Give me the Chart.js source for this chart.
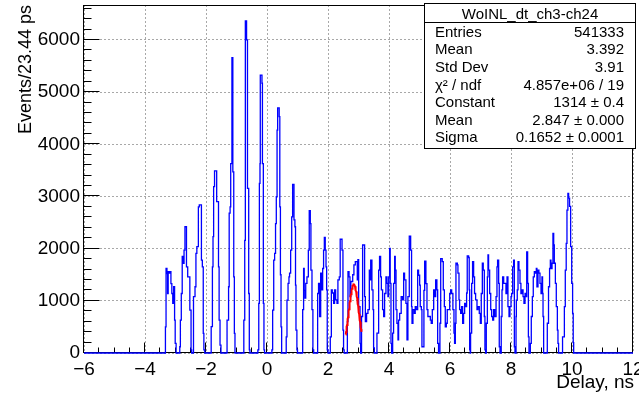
<!DOCTYPE html>
<html>
<head>
<meta charset="utf-8">
<script src="https://cdn.jsdelivr.net/npm/chart.js@4/dist/chart.umd.min.js"></script>
<style>
  html, body { margin: 0; padding: 0; background: #ffffff; overflow: hidden; }
  canvas { display: block; }
</style>
</head>
<body>
<canvas id="hist" width="639" height="393"></canvas>
<script>
// Delay histogram outline: each step starts at stepStartNs[i] and holds stepCounts[i]
const stepStartNs = [
  -6,
  -3.33, -3.31, -3.28, -3.26, -3.24, -3.20, -3.17, -3.15, -3.12, -3.09, -3.06, -3.03, -3.01, -2.98,
  -2.86, -2.84, -2.81, -2.78, -2.74, -2.72, -2.69, -2.64, -2.60, -2.53, -2.49, -2.47,
  -2.41, -2.36, -2.33, -2.30, -2.25, -2.22, -2.15, -2.12, -2.09, -2.07, -2.04,
  -1.83, -1.79, -1.77, -1.75, -1.72, -1.65, -1.59, -1.57, -1.54, -1.51,
  -1.31, -1.26, -1.24, -1.21, -1.19, -1.15, -1.12, -1.09, -1.07, -1.05,
  -0.76, -0.73, -0.71, -0.67, -0.64, -0.60, -0.58, -0.56,
  -0.30, -0.27, -0.25, -0.23, -0.22, -0.165, -0.15, -0.12, -0.10, -0.08,
  0.16, 0.185, 0.22, 0.25, 0.28, 0.305, 0.33, 0.35, 0.40, 0.42, 0.44, 0.46, 0.48,
  0.63, 0.655, 0.69, 0.72, 0.74, 0.775, 0.81, 0.84, 0.885, 0.915, 0.935, 0.95, 0.98, 1.00,
  1.17, 1.20, 1.22, 1.245, 1.27, 1.31, 1.355, 1.385, 1.42, 1.44, 1.475, 1.505, 1.53,
  1.66, 1.69, 1.725, 1.76, 1.79, 1.825, 1.855, 1.88, 1.91, 1.935, 1.955, 1.975, 2.00,
  2.075, 2.11, 2.14, 2.185, 2.215, 2.25, 2.295, 2.325, 2.37, 2.40, 2.46, 2.49, 2.51, 2.53,
  2.635, 2.655, 2.69, 2.72, 2.75, 2.81, 2.85, 2.895, 2.96, 2.98, 3.005, 3.05, 3.07,
  3.10, 3.135, 3.20, 3.225, 3.265, 3.31, 3.355, 3.385, 3.40, 3.44, 3.475, 3.495, 3.52,
  3.605, 3.66, 3.69, 3.725, 3.75, 3.79, 3.825, 3.855, 3.90, 3.935, 3.965, 3.99, 4.02, 4.04, 4.065, 4.085,
  4.12, 4.15, 4.185, 4.205, 4.23, 4.26, 4.295, 4.315, 4.35, 4.40, 4.445, 4.48, 4.51, 4.555, 4.59,
  4.62, 4.665, 4.71, 4.74, 4.755, 4.785, 4.83, 4.86, 4.895, 4.94, 4.97, 5.005, 5.025, 5.06, 5.08,
  5.145, 5.17, 5.21, 5.245, 5.275, 5.355, 5.385, 5.42, 5.465, 5.495, 5.53, 5.57, 5.595, 5.625,
  5.67, 5.695, 5.745, 5.78, 5.815, 5.845, 5.88, 5.91, 5.99, 6.02, 6.055, 6.095, 6.13, 6.15,
  6.175, 6.195, 6.24, 6.26, 6.295, 6.315, 6.35, 6.38, 6.415, 6.445, 6.48, 6.51, 6.545, 6.565, 6.61, 6.63, 6.645, 6.665,
  6.675, 6.71, 6.74, 6.775, 6.805, 6.84, 6.885, 6.915, 6.96, 6.995, 7.025, 7.06, 7.09, 7.125, 7.145, 7.17,
  7.19, 7.225, 7.245, 7.265, 7.30, 7.335, 7.365, 7.40, 7.43, 7.465, 7.51, 7.54, 7.56, 7.595, 7.615, 7.64,
  7.68, 7.705, 7.725, 7.76, 7.835, 7.87, 7.90, 7.935, 7.965, 8.00, 8.02, 8.055, 8.085, 8.11, 8.13,
  8.165, 8.175, 8.205, 8.23, 8.26, 8.295, 8.325, 8.36, 8.395, 8.425, 8.46, 8.49, 8.515, 8.545, 8.57, 8.59,
  8.635, 8.665, 8.70, 8.73, 8.765, 8.80, 8.83, 8.85, 8.885, 8.915, 8.95, 8.985, 9.015, 9.035, 9.05, 9.07,
  9.19, 9.23, 9.265, 9.29, 9.31, 9.345, 9.375, 9.40, 9.42, 9.455, 9.485, 9.52, 9.54, 9.56,
  9.69, 9.75, 9.78, 9.81, 9.835, 9.865, 9.89, 9.92, 9.955, 9.99, 10.02, 10.04, 10.055,
  12
];
const stepCounts = [
  0,
  500, 1620, 1520, 1140, 1560, 1530, 1560, 1330, 1140, 950, 1270, 630, 185, 0,
  120, 630, 1140, 1850, 1720, 1970, 2420, 1650, 1460, 820, 60, 0,
  1080, 1270, 1910, 2040, 2800, 2840, 1780, 1650, 375, 60, 0,
  505, 1650, 2230, 3190, 3490, 2900, 1650, 630, 150, 0,
  630, 1270, 2680, 2800, 3630, 5660, 3470, 1460, 375, 0,
  630, 2160, 6365, 6000, 3155, 1140, 60, 0,
  60, 950, 3250, 3630, 5325, 5170, 3630, 950, 60, 0,
  60, 820, 1780, 1910, 2480, 2995, 4270, 4700, 4530, 2800, 1500, 500, 0,
  310, 1015, 1335, 1460, 1530, 1970, 2610, 3230, 2550, 2420, 1300, 440, 60, 0,
  830, 1620, 1200, 1050, 1335, 1460, 1970, 2730, 2480, 1590, 830, 60, 0,
  1140, 1335, 700, 1530, 1210, 1620, 1970, 2215, 1970, 1650, 1210, 60, 0,
  310, 1210, 1150, 950, 1210, 1020, 950, 1400, 1460, 2180, 1970, 440, 60, 0,
  600, 1560, 1460, 1080, 1370, 1500, 1690, 1750, 1400, 1790, 890, 185, 0,
  700, 2070, 1080, 600, 760, 830, 1590, 1400, 1780, 1210, 830, 100, 0,
  380, 1590, 1850, 1460, 1210, 830, 700, 1140, 1460, 1335, 1080, 1460, 2005, 1335, 185, 0,
  380, 1335, 1850, 1590, 830, 570, 250, 630, 760, 1080, 1020, 1530, 1400, 950, 250,
  1080, 2240, 1970, 890, 570, 830, 760, 890, 830, 1590, 1490, 1300, 890, 830, 120,
  1200, 1760, 1330, 830, 700, 630, 570, 830, 1210, 1080, 1400, 1210, 185, 0,
  570, 1810, 1750, 1210, 890, 500, 570, 830, 1140, 1210, 1140, 830, 380, 185,
  570, 1720, 1690, 1530, 1020, 830, 760, 890, 570, 760, 950, 890, 1150, 1860, 1830, 1210, 60, 0,
  380, 1335, 1750, 1460, 1140, 1020, 830, 890, 760, 570, 1140, 1720, 1590, 700, 60, 0,
  570, 1460, 1880, 1590, 1140, 830, 700, 630, 830, 700, 1080, 1650, 1780, 1335, 120, 0,
  700, 1210, 1460, 1335, 1140, 1460, 890, 700, 890, 1080, 1140, 1650, 1780, 120, 0,
  700, 1015, 1210, 1750, 1590, 1335, 1140, 1210, 1080, 950, 1140, 1080, 1940, 1335, 310, 0,
  185, 700, 1080, 1460, 1560, 1530, 1620, 1270, 1590, 1530, 1335, 1140, 1460, 1140, 700, 0,
  570, 1270, 1620, 1780, 1620, 1720, 2290, 2070, 1720, 1335, 890, 440, 185, 0,
  310, 890, 1590, 2100, 2740, 3060, 2970, 2810, 2040, 1335, 760, 200, 0,
  0
];

// Gaussian fit result shown in the statistics box
const fitConstant = 1314;
const fitMean = 2.847;
const fitSigma = 0.1652;
const fitRangeNs = [2.58, 3.10];

// Axis ranges and labelled ticks
const xRange = [-6, 12];
const yRange = [0, 6670];
const xMajorTicks = [-6, -4, -2, 0, 2, 4, 6, 8, 10, 12];
const yMajorTicks = [0, 1000, 2000, 3000, 4000, 5000, 6000];
const xMinorStep = 0.5;
const yMinorStep = 200;

// Statistics box contents
const statsTitle = 'WoINL_dt_ch3-ch24';
const statsNames = ['Entries', 'Mean', 'Std Dev', '\u03C7\u00B2 / ndf', 'Constant', 'Mean', 'Sigma'];
const statsValues = ['541333', '3.392', '3.91', '4.857e+06 / 19', '1314 \u00B1 0.4', '2.847 \u00B1 0.000', '0.1652 \u00B1 0.0001'];

const xTitle = 'Delay, ns';
const yTitle = 'Events/23.44 ps';

const FONT = '"Liberation Sans", Arial, Helvetica, sans-serif';

const histPoints = stepStartNs.map((x, i) => ({ x: x, y: stepCounts[i] }));

const fitPoints = [];
const nFit = 80;
for (let i = 0; i <= nFit; i++) {
  const x = fitRangeNs[0] + (fitRangeNs[1] - fitRangeNs[0]) * i / nFit;
  const z = (x - fitMean) / fitSigma;
  fitPoints.push({ x: x, y: fitConstant * Math.exp(-0.5 * z * z) });
}

// Frame box and inward tick marks, ROOT style
const framePlugin = {
  id: 'frame',
  beforeDatasetsDraw(chart) {
    const { ctx, chartArea: a, scales } = chart;
    const L = Math.round(a.left) - 0.5, R = Math.round(a.right) - 0.5;
    const T = Math.round(a.top) + 0.5, B = Math.round(a.bottom) - 0.5;
    ctx.save();
    ctx.strokeStyle = '#000';
    ctx.lineWidth = 1;
    ctx.beginPath();
    for (let v = yRange[0]; v <= yRange[1]; v += yMinorStep) {
      const y = Math.round(scales.y.getPixelForValue(v)) - 0.5;
      const len = (v % 1000 === 0) ? 16 : 8;
      ctx.moveTo(L, y); ctx.lineTo(L + len, y);
    }
    for (let v = xRange[0]; v <= xRange[1] + 1e-9; v += xMinorStep) {
      const x = Math.round(scales.x.getPixelForValue(v)) - 0.5;
      const len = (Math.abs(v % 2) < 1e-9) ? 10 : 5;
      ctx.moveTo(x, B); ctx.lineTo(x, B - len);
    }
    ctx.stroke();
    ctx.strokeRect(L, T, R - L, B - T);
    ctx.restore();
  }
};

// Axis titles and the statistics box
const overlayPlugin = {
  id: 'overlay',
  afterDraw(chart) {
    const { ctx, chartArea: a } = chart;
    ctx.save();
    ctx.fillStyle = '#000';
    ctx.font = '19px ' + FONT;
    ctx.textAlign = 'right';
    ctx.textBaseline = 'alphabetic';
    ctx.fillText(xTitle, 634, 388);

    ctx.save();
    ctx.translate(31, a.top);
    ctx.rotate(-Math.PI / 2);
    ctx.font = '18px ' + FONT;
    ctx.textAlign = 'right';
    ctx.fillText(yTitle, 0, 0);
    ctx.restore();

    const bx = 424.5, by = 3.5, bw = 211, bh = 145;
    ctx.fillStyle = '#fff';
    ctx.fillRect(bx, by, bw, bh);
    ctx.strokeStyle = '#000';
    ctx.lineWidth = 1;
    ctx.strokeRect(bx, by, bw, bh);
    ctx.beginPath();
    ctx.moveTo(bx, 22.5); ctx.lineTo(bx + bw, 22.5);
    ctx.stroke();
    ctx.fillStyle = '#000';
    ctx.font = '15px ' + FONT;
    ctx.textAlign = 'center';
    ctx.fillText(statsTitle, bx + bw / 2, 18.5);
    for (let i = 0; i < statsNames.length; i++) {
      const yb = 36.8 + i * 17.6;
      ctx.textAlign = 'left';
      ctx.fillText(statsNames[i], 435, yb);
      ctx.textAlign = 'right';
      ctx.fillText(statsValues[i], 624, yb);
    }
    ctx.restore();
  }
};

const fmtX = v => (v < 0 ? '\u2212' + Math.abs(v) : String(v));

new Chart(document.getElementById('hist'), {
  type: 'line',
  data: {
    datasets: [
      {
        data: histPoints,
        stepped: 'before',
        borderColor: '#0000ff',
        borderWidth: 1.3,
        pointRadius: 0,
        fill: false,
        clip: 3,
        order: 2
      },
      {
        data: fitPoints,
        borderColor: '#ff0000',
        borderWidth: 2,
        pointRadius: 0,
        fill: false,
        tension: 0,
        clip: 3,
        order: 1
      }
    ]
  },
  options: {
    responsive: false,
    animation: false,
    devicePixelRatio: 1,
    layout: { padding: { top: 5, right: 6, left: 0, bottom: 0 } },
    plugins: { legend: { display: false }, tooltip: { enabled: false } },
    scales: {
      x: {
        type: 'linear',
        min: xRange[0],
        max: xRange[1],
        afterBuildTicks: s => { s.ticks = xMajorTicks.map(v => ({ value: v })); },
        afterFit: s => { s.height = 40; s.paddingLeft = 0; s.paddingRight = 0; },
        grid: { drawTicks: false, color: '#a8a8a8', lineWidth: 1 },
        border: { display: false, dash: [2, 2] },
        ticks: {
          padding: 5,
          color: '#000',
          font: { family: FONT, size: 19 },
          maxRotation: 0,
          autoSkip: false,
          callback: v => fmtX(v)
        }
      },
      y: {
        type: 'linear',
        min: yRange[0],
        max: yRange[1],
        afterBuildTicks: s => { s.ticks = yMajorTicks.map(v => ({ value: v })); },
        afterFit: s => { s.width = 84; s.paddingTop = 0; s.paddingBottom = 0; },
        grid: { drawTicks: false, color: '#a8a8a8', lineWidth: 1 },
        border: { display: false, dash: [2, 2] },
        ticks: {
          padding: 4,
          color: '#000',
          font: { family: FONT, size: 19 },
          autoSkip: false,
          callback: v => String(v)
        }
      }
    }
  },
  plugins: [framePlugin, overlayPlugin]
});
</script>
</body>
</html>
